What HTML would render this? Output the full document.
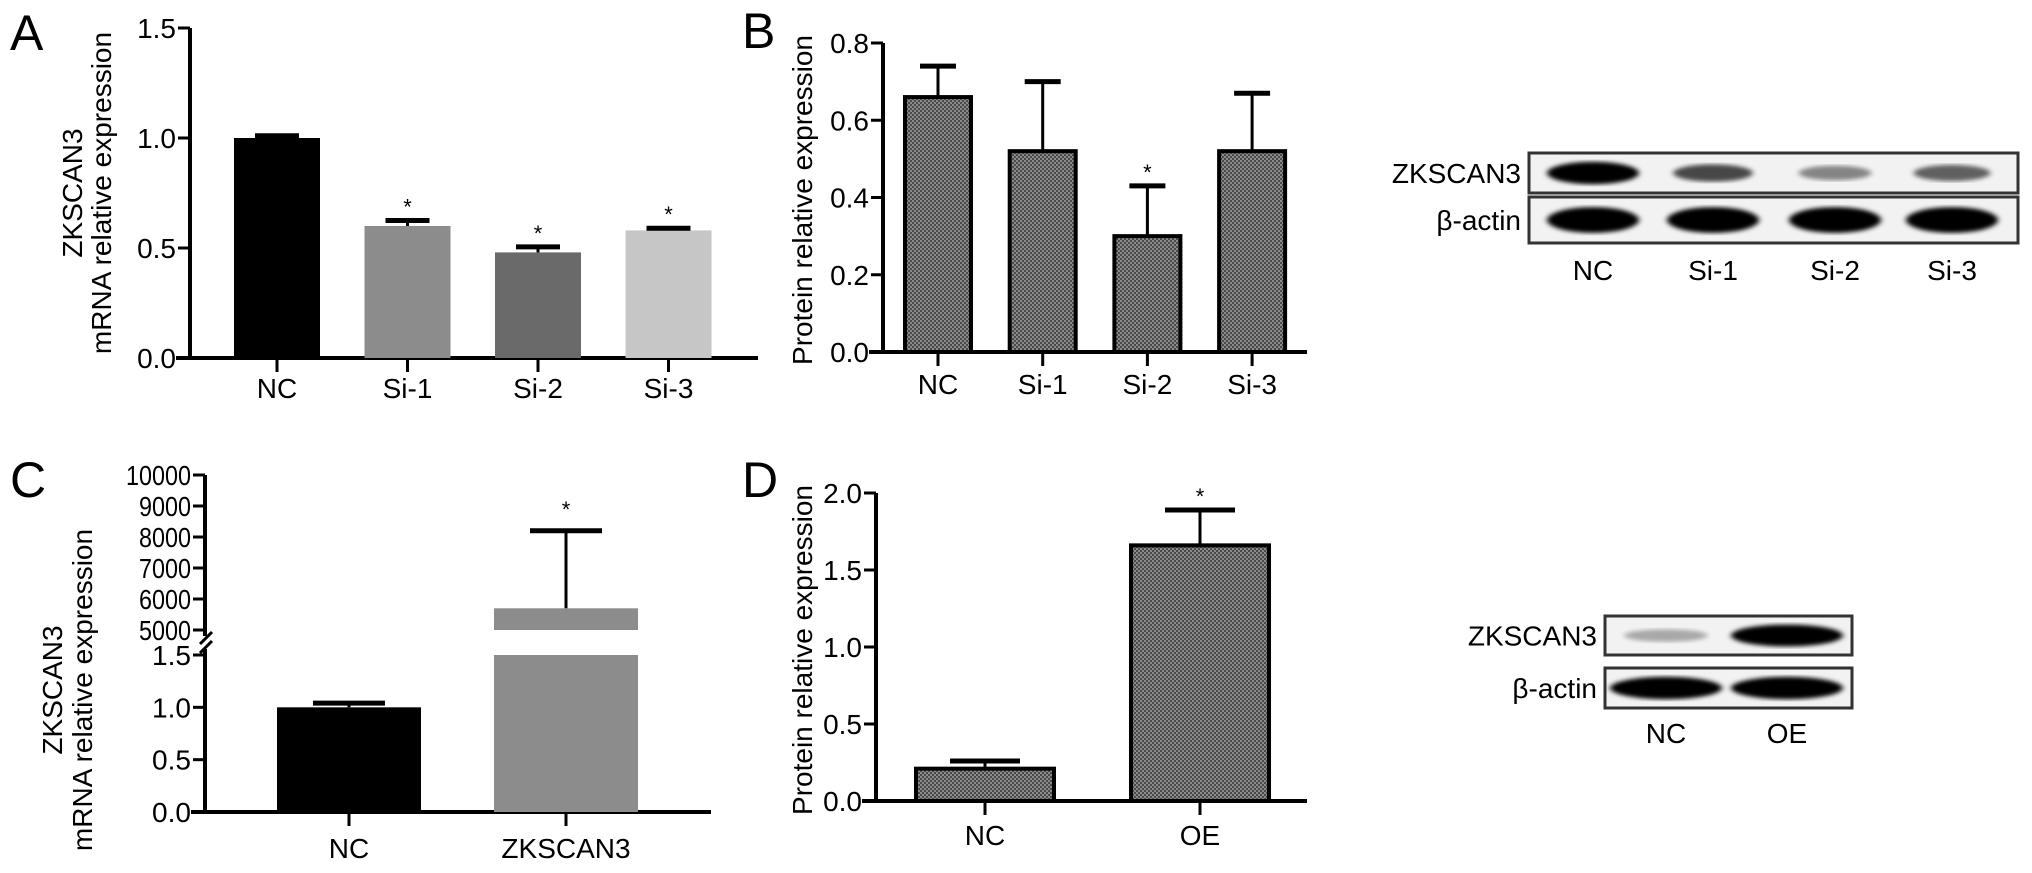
<!DOCTYPE html>
<html><head><meta charset="utf-8"><style>
html,body{margin:0;padding:0;background:#fff}
svg{display:block;font-family:"Liberation Sans",sans-serif}
</style></head><body>
<svg id="fig" width="2032" height="873" viewBox="0 0 2032 873" xmlns="http://www.w3.org/2000/svg">
<defs>
<pattern id="dots" width="4" height="4" patternUnits="userSpaceOnUse">
<rect width="4" height="4" fill="#4a4a4a"/><rect width="2" height="2" fill="#8a8a8a"/><rect x="2" y="2" width="2" height="2" fill="#8a8a8a"/>
</pattern>
<filter id="blur3"><feGaussianBlur stdDeviation="4 3"/></filter>
<filter id="blur2"><feGaussianBlur stdDeviation="3 2"/></filter>
</defs>
<g id="root"></g>
</svg>
<script>
// Panel A
const aCats = ["NC","Si-1","Si-2","Si-3"];
const aVals = [1.0,0.60,0.48,0.58];
const aErr = [1.01,0.625,0.505,0.59];
const aStar = [false,true,true,true];
const aTicks = ["0.0","0.5","1.0","1.5"];
// Panel B
const bCats = ["NC","Si-1","Si-2","Si-3"];
const bVals = [0.66,0.52,0.30,0.52];
const bErr = [0.74,0.70,0.43,0.67];
const bStar = [false,false,true,false];
const bTicks = ["0.0","0.2","0.4","0.6","0.8"];
// Panel C
const cCats = ["NC","ZKSCAN3"];
const cVals = [1.0,5700];
const cErr = [1.04,8200];
const cStar = [false,true];
const cLowTicks = ["0.0","0.5","1.0","1.5"];
const cHighTicks = ["5000","6000","7000","8000","9000","10000"];
// Panel D
const dCats = ["NC","OE"];
const dVals = [0.21,1.66];
const dErr = [0.26,1.89];
const dStar = [false,true];
const dTicks = ["0.0","0.5","1.0","1.5","2.0"];
// Blots
const blotB = {lanes:["NC","Si-1","Si-2","Si-3"], target:[1.0,0.55,0.3,0.45], actin:[1,1,1,1]};
const blotD = {lanes:["NC","OE"], target:[0.15,1.0], actin:[1,1]};

const NS="http://www.w3.org/2000/svg";
const root=document.getElementById('root');
function mk(tag,attrs,parent,txt){const e=document.createElementNS(NS,tag);for(const k in attrs)e.setAttribute(k,attrs[k]);if(txt!==undefined)e.textContent=txt;(parent||root).appendChild(e);return e;}

function letter(ch,x,y){const t=mk('text',{x:x,y:y,'font-size':50},root,ch);

}

function barChart(o){
 const g=mk('g',{});
 
 
 const y=v=>o.y0-(v-o.vmin)*(o.y0-o.ytop)/(o.vmax-o.vmin);
 const ax=mk('line',{x1:o.ax,y1:o.ytop,x2:o.ax,y2:o.y0+1,stroke:'#000','stroke-width':4},g);
 
 
 const xa=mk('line',{x1:o.ax-14,y1:o.y0,x2:o.xend,y2:o.y0,stroke:'#000','stroke-width':4},g);
 
 
 o.ticks.forEach(tk=>{const v=parseFloat(tk);const yy=y(v);
  mk('line',{x1:o.ax-12,y1:yy,x2:o.ax,y2:yy,stroke:'#000','stroke-width':3},g);
  const t=mk('text',{x:o.ax-14,y:yy+10,'font-size':o.fs,'text-anchor':'end'},g,tk);
  
  });
 o.cats.forEach((c,i)=>{const cx=o.cx0+i*o.step;const top=y(o.vals[i]);
  const r=mk('rect',{x:cx-o.bw/2,y:top,width:o.bw,height:o.y0-top,fill:o.fills[i],stroke:o.stroke||'none','stroke-width':o.stroke?4:0},g);
  
  
  const et=y(o.err[i]);
  mk('line',{x1:cx,y1:top,x2:cx,y2:et,stroke:'#000','stroke-width':3},g);
  const cap=mk('line',{x1:cx-o.cap,y1:et,x2:cx+o.cap,y2:et,stroke:'#000','stroke-width':5},g);
  
  
  if(o.star[i]){const s=mk('text',{x:cx,y:et-6,'font-size':22,'text-anchor':'middle'},g,'*');
   
   }
  mk('line',{x1:cx,y1:o.y0,x2:cx,y2:o.y0+14,stroke:'#000','stroke-width':3},g);
  const t=mk('text',{x:cx,y:o.ly,'font-size':o.fs,'text-anchor':'middle'},g,c);
  
  });
 o.title.forEach((line,i)=>{const tx=o.tx[i];
  const t=mk('text',{x:0,y:0,'font-size':o.tfs,'text-anchor':'middle',transform:`translate(${tx},${o.ty}) rotate(-90)`},g,line);
  
  });
}

letter('A',10,50);
barChart({name:'panel-a-chart',cats:aCats,vals:aVals,err:aErr,star:aStar,ticks:aTicks,vmin:0,vmax:1.5,ax:190,ytop:28,y0:358,xend:758,cx0:277,step:130.5,bw:86,cap:22,fills:['#000','#8c8c8c','#6a6a6a','#c6c6c6'],fs:28,ly:398,title:['ZKSCAN3','mRNA relative expression'],tx:[82,111],ty:193,tfs:28});

letter('B',742,48);
barChart({name:'panel-b-chart',cats:bCats,vals:bVals,err:bErr,star:bStar,ticks:bTicks,vmin:0,vmax:0.8,ax:883,ytop:43,y0:352,xend:1307,cx0:938,step:104.7,bw:66,cap:18,fills:['url(#dots)','url(#dots)','url(#dots)','url(#dots)'],stroke:'#000',fs:28,ly:394,title:['Protein relative expression'],tx:[812],ty:200,tfs:28});

letter('D',742,497);
barChart({name:'panel-d-chart',cats:dCats,vals:dVals,err:dErr,star:dStar,ticks:dTicks,vmin:0,vmax:2.0,ax:876,ytop:493,y0:801,xend:1307,cx0:985,step:215,bw:138,cap:35,fills:['url(#dots)','url(#dots)'],stroke:'#000',fs:28,ly:845,title:['Protein relative expression'],tx:[812],ty:650,tfs:28});

// Panel C (broken axis)
letter('C',10,497);
(function(){
 const g=mk('g',{});
 
 
 const ax=205,y0=812,yLowTop=655,yHighBot=630,yHighTop=475;
 const yl=v=>y0-v*(y0-yLowTop)/1.5;
 const yh=v=>yHighBot-(v-5000)*(yHighBot-yHighTop)/5000;
 const a1=mk('line',{x1:ax,y1:y0+1,x2:ax,y2:yLowTop-6,stroke:'#000','stroke-width':4},g);
 
 
 const a2=mk('line',{x1:ax,y1:yHighBot+6,x2:ax,y2:yHighTop,stroke:'#000','stroke-width':4},g);
 
 
 mk('line',{x1:ax-5,y1:yLowTop-2,x2:ax+7,y2:yLowTop-14,stroke:'#000','stroke-width':3},g);
 mk('line',{x1:ax-5,y1:yHighBot+14,x2:ax+7,y2:yHighBot+2,stroke:'#000','stroke-width':3},g);
 const xa=mk('line',{x1:191,y1:y0,x2:711,y2:y0,stroke:'#000','stroke-width':4},g);
 
 
 cLowTicks.forEach(tk=>{const yy=yl(parseFloat(tk));mk('line',{x1:ax-12,y1:yy,x2:ax,y2:yy,stroke:'#000','stroke-width':3},g);
  const t=mk('text',{x:ax-14,y:yy+10,'font-size':28,'text-anchor':'end',textLength:tk.length*13,lengthAdjust:'spacingAndGlyphs'},g,tk);
  
  });
 cHighTicks.forEach(tk=>{const yy=yh(parseFloat(tk));mk('line',{x1:ax-12,y1:yy,x2:ax,y2:yy,stroke:'#000','stroke-width':3},g);
  const t=mk('text',{x:ax-14,y:yy+10,'font-size':28,'text-anchor':'end',textLength:tk.length*13,lengthAdjust:'spacingAndGlyphs'},g,tk);
  
  });
 const fills=['#000','#8c8c8c'];const cxs=[349,566];const bw=144;
 cCats.forEach((c,i)=>{const cx=cxs[i];const v=cVals[i];
  let top, et;
  if(v<=1.5){top=yl(v);mk('rect',{x:cx-bw/2,y:top,width:bw,height:y0-top,fill:fills[i]},g);}
  else{mk('rect',{x:cx-bw/2,y:yLowTop,width:bw,height:y0-yLowTop,fill:fills[i]},g);
   top=yh(v);mk('rect',{x:cx-bw/2,y:top,width:bw,height:yHighBot-top,fill:fills[i]},g);}
  et=cErr[i]<=1.5?yl(cErr[i]):yh(cErr[i]);
  mk('line',{x1:cx,y1:top,x2:cx,y2:et,stroke:'#000','stroke-width':3},g);
  const cap=mk('line',{x1:cx-36,y1:et,x2:cx+36,y2:et,stroke:'#000','stroke-width':5},g);
  
  
  if(cStar[i]){const s=mk('text',{x:cx,y:et-14,'font-size':22,'text-anchor':'middle'},g,'*');
   
   }
  mk('line',{x1:cx,y1:y0,x2:cx,y2:y0+14,stroke:'#000','stroke-width':3},g);
  const t=mk('text',{x:cx,y:858,'font-size':28,'text-anchor':'middle'},g,c);
  
  });
 ['ZKSCAN3','mRNA relative expression'].forEach((line,i)=>{const t=mk('text',{x:0,y:0,'font-size':28,'text-anchor':'middle',transform:`translate(${[62,92][i]},690) rotate(-90)`},g,line);
  
  });
})();

function blot(o){
 const g=mk('g',{});
 
 
 const rows=[[o.t1,o.b1,o.data.target,'ZKSCAN3'],[o.t2,o.b2,o.data.actin,'β-actin']];
 rows.forEach((r,ri)=>{
  const box=mk('rect',{x:o.x1,y:r[0],width:o.x2-o.x1,height:r[1]-r[0],fill:'#f2f2f2',stroke:'#333','stroke-width':3},g);
  
  
  const my=(r[0]+r[1])/2;
  o.centers.forEach((cx,i)=>{const s=r[2][i];
   const band=mk('ellipse',{cx:cx,cy:my,rx:o.bw*(0.7+0.3*s),ry:(r[1]-r[0])*0.28*(0.5+0.5*s),fill:'#000',opacity:Math.min(1,0.15+s),filter:'url(#blur2)'},g);
   
   });
  const t=mk('text',{x:o.x1-8,y:my+10,'font-size':28,'text-anchor':'end'},g,r[3]);
  
  
 });
 o.data.lanes.forEach((l,i)=>{const t=mk('text',{x:o.centers[i],y:o.ly,'font-size':28,'text-anchor':'middle'},g,l);
  
  });
}
blot({name:'blot-b',data:blotB,x1:1529,x2:2018,t1:153,b1:193,t2:197,b2:243,centers:[1593,1713,1835,1952],bw:46,ly:280});
blot({name:'blot-d',data:blotD,x1:1605,x2:1852,t1:616,b1:655,t2:668,b2:708,centers:[1666,1787],bw:56,ly:743});
</script>
</body></html>
